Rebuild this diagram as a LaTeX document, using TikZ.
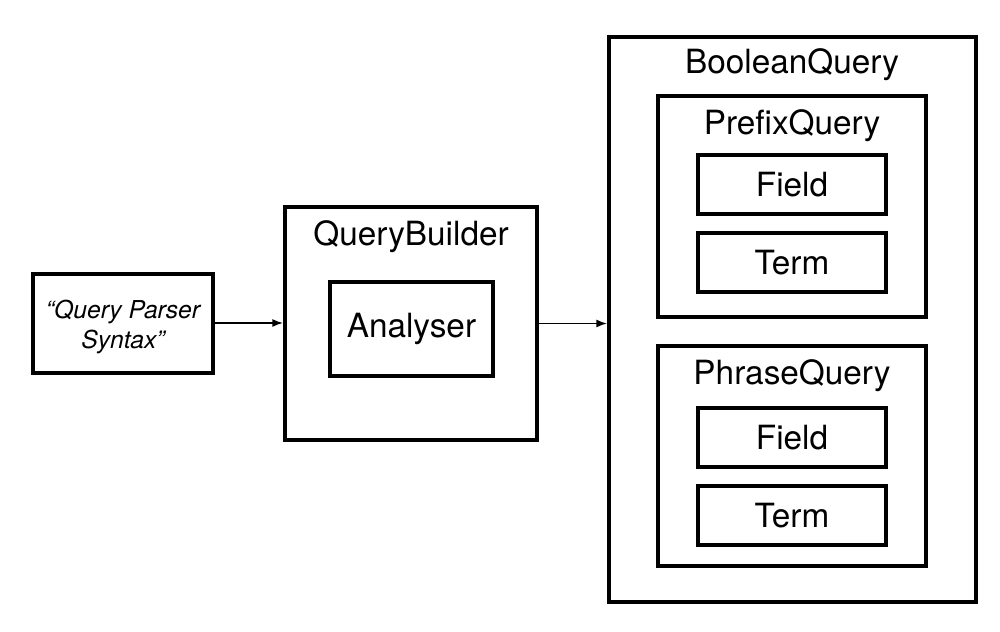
\documentclass[tikz,border=0pt]{standalone}
\usepackage{fontspec}
\setmainfont{TeX Gyre Heros}
\usetikzlibrary{arrows.meta}

\newcommand{\px}{*0.75pt}
\tikzset{
  qbox/.style={draw, line width=3pt, inner sep=0pt},
  qtitle/.style={font=\fontsize{25}{29}\selectfont},
  qflow/.style={line width=1.1pt, -{Latex[length=8pt,width=6pt]}}
}

\begin{document}
\begin{tikzpicture}[x=0.75pt, y=-0.75pt]
    \useasboundingbox (0,0) rectangle (1000,632);
    % outer boxes
    \node[qbox, minimum width=180\px, minimum height=99\px] (syntax) at (123,323) {};
    \node[align=center, font=\itshape\fontsize{18.5}{22}\selectfont] (syntaxtext) at (123,327)
          {``Query Parser\\ Syntax''};
    \node[qbox, minimum width=252\px, minimum height=233\px] (builder) at (411,323.5) {};
    \node[qbox, minimum width=367\px, minimum height=565\px] (boolean) at (792.5,319.5) {};
    \node[qtitle] (buildertitle) at (411,237) {QueryBuilder};
    \node[qbox, qtitle, minimum width=163\px, minimum height=94\px] (analyser) at (411.5,329) {Analyser};
    \node[qtitle] (booleantitle) at (792,65) {BooleanQuery};
    % prefix query
    \node[qbox, minimum width=268\px, minimum height=221\px] (prefix) at (792,206.5) {};
    \node[qtitle] (prefixtitle) at (792,126) {PrefixQuery};
    \node[qbox, qtitle, minimum width=188\px, minimum height=59\px] (prefixfield) at (792,184.5) {Field};
    \node[qbox, qtitle, minimum width=188\px, minimum height=59\px] (prefixterm) at (792,262.5) {Term};
    % phrase query
    \node[qbox, minimum width=268\px, minimum height=220\px] (phrase) at (792,456) {};
    \node[qtitle] (phrasetitle) at (792,376) {PhraseQuery};
    \node[qbox, qtitle, minimum width=188\px, minimum height=59\px] (phrasefield) at (792,437.5) {Field};
    \node[qbox, qtitle, minimum width=188\px, minimum height=59\px] (phraseterm) at (792,515.5) {Term};
    % flow
    \draw[qflow] (syntax.east) -- (syntax.east -| builder.west);
    \draw[qflow] (builder.east) -- (builder.east -| boolean.west);
  \end{tikzpicture}
\end{document}
